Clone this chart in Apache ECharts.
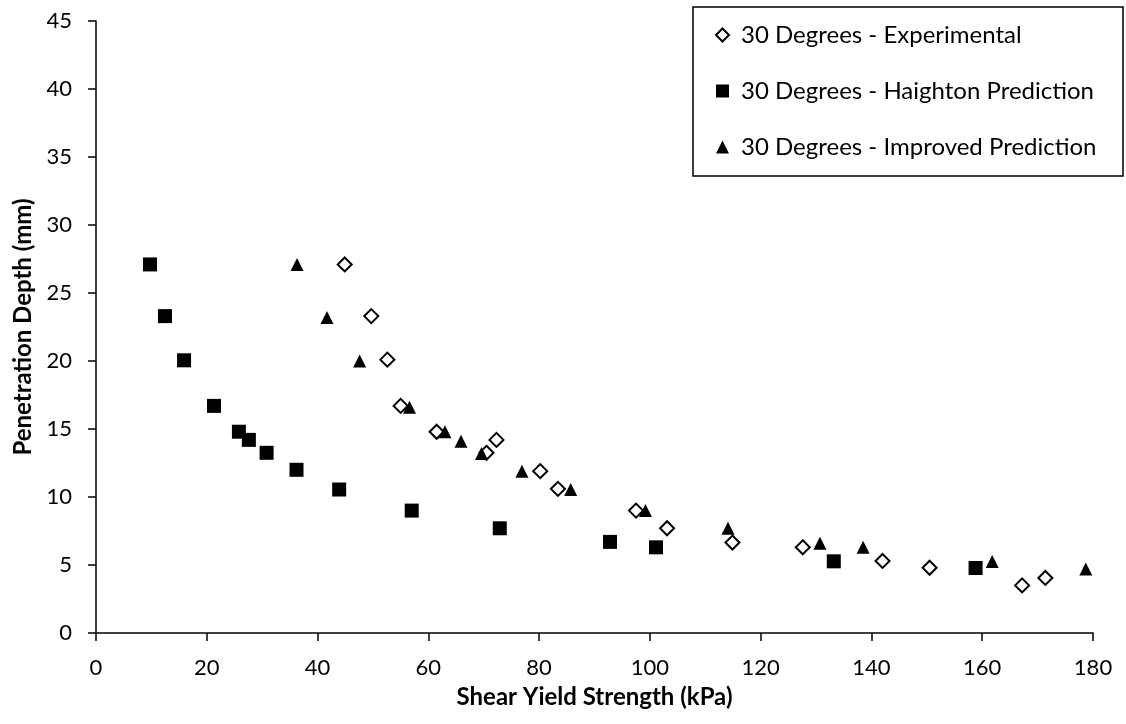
<!DOCTYPE html>
<html>
<head>
<meta charset="utf-8">
<script src="https://cdn.jsdelivr.net/npm/echarts@6/dist/echarts.min.js"></script>
<style>
html, body { margin: 0; padding: 0; background: #fff; }
#chart { width: 1126px; height: 724px; }
</style>
</head>
<body>
<div id="chart"></div>
<script>
// Shear yield strength (kPa) vs penetration depth (mm)
const experimental = [
  [44.9, 27.1], [49.7, 23.3], [52.6, 20.1], [55.0, 16.7], [61.5, 14.8],
  [72.3, 14.2], [70.5, 13.25], [80.2, 11.9], [83.4, 10.6], [97.5, 9.0],
  [103.1, 7.7], [114.9, 6.65], [127.6, 6.3], [142.0, 5.3], [150.5, 4.8],
  [167.2, 3.5], [171.4, 4.05]
];
const haighton = [
  [9.75, 27.1], [12.45, 23.3], [15.9, 20.05], [21.3, 16.7], [25.8, 14.8],
  [27.6, 14.2], [30.8, 13.25], [36.2, 12.0], [43.9, 10.55], [57.0, 9.0],
  [72.9, 7.7], [92.8, 6.7], [101.1, 6.3], [133.2, 5.27], [158.8, 4.78]
];
const improved = [
  [36.3, 27.1], [41.7, 23.2], [47.6, 20.0], [56.6, 16.6], [63.0, 14.8],
  [65.9, 14.1], [69.6, 13.2], [76.9, 11.9], [85.7, 10.55], [99.2, 9.0],
  [114.1, 7.7], [130.7, 6.6], [138.5, 6.3], [161.8, 5.25], [178.7, 4.7]
];
const seriesNames = [
  '30 Degrees - Experimental',
  '30 Degrees - Haighton Prediction',
  '30 Degrees - Improved Prediction'
];

const font = 'Lato, "Open Sans", sans-serif';
const chart = echarts.init(document.getElementById('chart'));

const axisCommon = {
  axisLine: { lineStyle: { color: '#000', width: 1.5 } },
  axisTick: { show: true, length: 8, lineStyle: { color: '#000', width: 1.5 } },
  splitLine: { show: false },
  nameTextStyle: { fontFamily: font, fontWeight: 'bold', fontSize: 24, color: '#000' }
};

chart.setOption({
  animation: false,
  backgroundColor: '#fff',
  grid: { left: 96, right: 33, top: 21, bottom: 91 },
  xAxis: Object.assign({}, axisCommon, {
    type: 'value', min: 0, max: 180, interval: 20,
    name: 'Shear Yield Strength (kPa)', nameLocation: 'middle', nameGap: 52,
    axisLabel: { color: '#000', fontFamily: font, fontSize: 22, margin: 24 }
  }),
  yAxis: Object.assign({}, axisCommon, {
    type: 'value', min: 0, max: 45, interval: 5,
    name: 'Penetration Depth (mm)', nameLocation: 'middle', nameGap: 61,
    axisLabel: { color: '#000', fontFamily: font, fontSize: 22, margin: 24 }
  }),
  legend: {
    orient: 'vertical',
    left: 710, top: 18,
    itemGap: 32,
    itemWidth: 13, itemHeight: 13,
    textStyle: { fontFamily: font, fontSize: 24, lineHeight: 24, color: '#000', padding: [0, 0, 0, 7] },
    data: seriesNames
  },
  graphic: [{
    type: 'rect',
    shape: { x: 693, y: 7, width: 430, height: 169 },
    style: { fill: 'none', stroke: '#000', lineWidth: 1.5 },
    silent: true
  }],
  series: [
    {
      name: seriesNames[0], type: 'scatter', data: experimental,
      symbol: 'diamond', symbolSize: 14,
      itemStyle: { color: '#fff', borderColor: '#000', borderWidth: 2, opacity: 1 }
    },
    {
      name: seriesNames[1], type: 'scatter', data: haighton,
      symbol: 'rect', symbolSize: 14,
      itemStyle: { color: '#000', opacity: 1 }
    },
    {
      name: seriesNames[2], type: 'scatter', data: improved,
      symbol: 'triangle', symbolSize: [13, 13],
      itemStyle: { color: '#000', opacity: 1 }
    }
  ]
});
</script>
</body>
</html>
